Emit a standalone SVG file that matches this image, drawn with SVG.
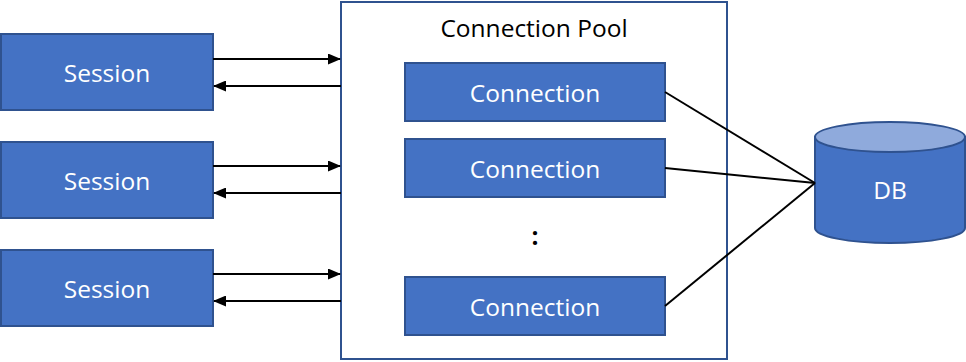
<svg xmlns="http://www.w3.org/2000/svg" width="966" height="362" viewBox="0 0 966 362">
<defs>
<style>
.box{fill:#4472C4;stroke:#2F528F;stroke-width:2}
.lbl{font-family:"Open Sans","Noto Sans",sans-serif;font-size:24.5px;fill:#fff;text-anchor:middle;dominant-baseline:central}
.blk{font-family:"Open Sans","Noto Sans",sans-serif;font-size:24.5px;fill:#000;text-anchor:middle;dominant-baseline:central}
.ln{stroke:#000;stroke-width:2;fill:none}
.ar{stroke:#000;stroke-width:2;fill:none;marker-end:url(#ah)}
</style>
<marker id="ah" markerWidth="13" markerHeight="11" refX="12" refY="5.5" orient="auto" markerUnits="userSpaceOnUse">
<path d="M0,0 L13,5.5 L0,11 Z" fill="#000"/>
</marker>
</defs>
<rect width="966" height="362" fill="#fff"/>
<g id="pool">
<rect x="341" y="2" width="386" height="357" fill="#fff" stroke="#2F528F" stroke-width="2"/>
<text class="blk" x="534" y="27">Connection Pool</text>
<text class="blk" x="535" y="235" font-weight="bold">:</text>
</g>
<g id="session1"><rect class="box" x="1" y="34" width="212" height="76"/><text class="lbl" x="107" y="72">Session</text></g>
<g id="session2"><rect class="box" x="1" y="142" width="212" height="76"/><text class="lbl" x="107" y="180">Session</text></g>
<g id="session3"><rect class="box" x="1" y="250" width="212" height="76"/><text class="lbl" x="107" y="288">Session</text></g>
<g id="conn1"><rect class="box" x="405" y="63" width="260" height="58"/><text class="lbl" x="535" y="92">Connection</text></g>
<g id="conn2"><rect class="box" x="405" y="139" width="260" height="58"/><text class="lbl" x="535" y="168">Connection</text></g>
<g id="conn3"><rect class="box" x="405" y="277" width="260" height="58"/><text class="lbl" x="535" y="306">Connection</text></g>
<g id="db">
<path d="M815,137 L815,228 A75,15 0 0 0 965,228 L965,137 Z" fill="#4472C4" stroke="#2F528F" stroke-width="2"/>
<ellipse cx="890" cy="137" rx="75" ry="15" fill="#8FAADC" stroke="#2F528F" stroke-width="2"/>
<text class="lbl" x="890" y="189">DB</text>
</g>
<g id="connectors">
<line class="ar" x1="213" y1="59" x2="340" y2="59"/>
<line class="ar" x1="341" y1="86" x2="214" y2="86"/>
<line class="ar" x1="213" y1="166" x2="340" y2="166"/>
<line class="ar" x1="341" y1="193" x2="214" y2="193"/>
<line class="ar" x1="213" y1="274" x2="340" y2="274"/>
<line class="ar" x1="341" y1="301" x2="214" y2="301"/>
<line class="ln" x1="665" y1="92" x2="815" y2="183"/>
<line class="ln" x1="665" y1="168" x2="815" y2="183"/>
<line class="ln" x1="665" y1="306" x2="815" y2="183"/>
</g>
</svg>
